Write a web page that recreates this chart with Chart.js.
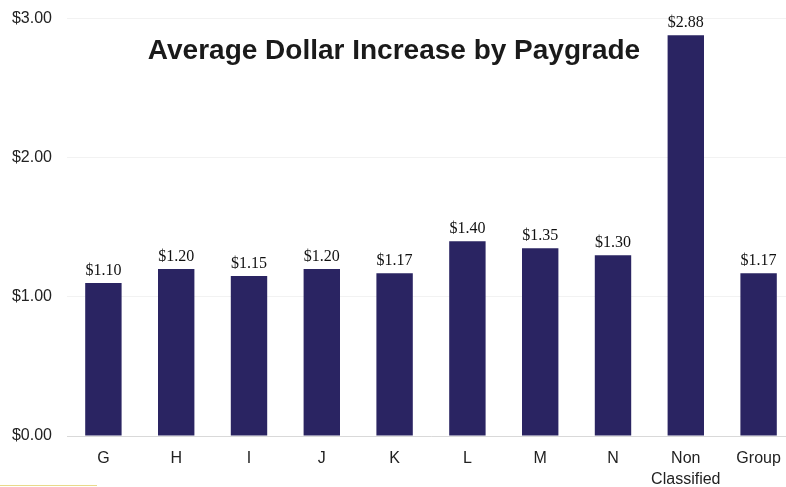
<!DOCTYPE html>
<html><head><meta charset="utf-8">
<script src="https://cdn.jsdelivr.net/npm/chart.js@4"></script>
<style>
html,body{margin:0;padding:0;background:#fff;overflow:hidden;width:786px;height:487px;}
#wrap{position:absolute;left:0;top:-6px;width:800px;height:493px;}
#deco{position:absolute;left:0;top:485px;width:97px;height:1px;background:#e9d98a;}
</style></head>
<body>
<div id="wrap"><canvas id="c" width="800" height="493"></canvas></div>
<div id="deco"></div>
<script>
const chartTitle = 'Average Dollar Increase by Paygrade';
const categories = ['G','H','I','J','K','L','M','N',['Non','Classified'],'Group'];
const values = [1.10,1.20,1.15,1.20,1.17,1.40,1.35,1.30,2.88,1.17];
const tickValues = [0,1,2,3];

const fmt = v => '$' + Number(v).toFixed(2);

const overlay = {
  id:'overlay',
  afterDatasetsDraw(chart){
    const ctx = chart.ctx;
    const meta = chart.getDatasetMeta(0);
    ctx.save();
    ctx.fillStyle = '#111';
    ctx.font = '16px "Liberation Serif", "Times New Roman", serif';
    ctx.textAlign = 'center';
    ctx.textBaseline = 'bottom';
    meta.data.forEach((bar,i)=>{
      ctx.fillText(fmt(values[i]), bar.x, bar.y - 4);
    });
    ctx.font = 'bold 28px "Liberation Sans", Arial, sans-serif';
    ctx.fillStyle = '#1a1a1a';
    ctx.textBaseline = 'alphabetic';
    ctx.fillText(chartTitle, 394, 65);
    ctx.restore();
  }
};

new Chart(document.getElementById('c'), {
  type:'bar',
  data:{labels:categories, datasets:[{data:values, backgroundColor:'#2a2462', barPercentage:0.5, categoryPercentage:1.0}]},
  options:{
    responsive:false, animation:false,
    layout:{padding:{top:4,right:5,left:0,bottom:0}},
    plugins:{legend:{display:false}, tooltip:{enabled:false}, title:{display:false}},
    scales:{
      x:{
        grid:{display:false, drawTicks:false},
        border:{display:true, color:'#d9d9d9', width:1},
        ticks:{color:'#222', font:{family:'"Liberation Sans", Arial, sans-serif', size:16, lineHeight:1.3}, padding:12, maxRotation:0, autoSkip:false},
        afterFit(s){ s.height = 51; }
      },
      y:{
        min:0, max:3,
        afterBuildTicks(s){ s.ticks = tickValues.map(v=>({value:v})); },
        grid:{color:'#f2f2f2', drawTicks:false},
        border:{display:false},
        ticks:{color:'#222', font:{family:'"Liberation Sans", Arial, sans-serif', size:16}, padding:15, callback:v=>fmt(v)},
        afterFit(s){ s.width = 67; }
      }
    }
  },
  plugins:[overlay]
});
</script>
</body></html>
